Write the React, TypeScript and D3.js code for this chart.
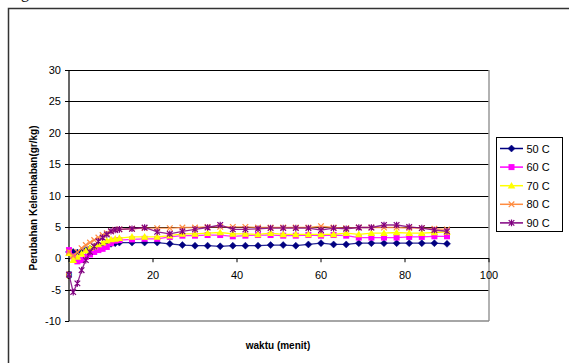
import React from "react";
import * as d3 from "d3";

const time = [0,1,2,3,4,5,6,7,8,9,10,11,12,15,18,21,24,27,30,33,36,39,42,45,48,51,54,57,60,63,66,69,72,75,78,81,84,87,90];
const s50 = [1.0,1.0,0.9,1.1,1.3,1.5,1.7,1.9,2.0,2.1,2.3,2.4,2.5,2.5,2.5,2.5,2.3,2.1,2.0,2.0,1.9,2.0,2.0,2.0,2.1,2.1,2.0,2.2,2.4,2.2,2.2,2.4,2.4,2.4,2.4,2.4,2.4,2.4,2.3];
const s60 = [1.3,0.3,-0.5,-0.3,0.2,0.6,1.0,1.3,1.5,1.8,2.4,2.8,2.9,3.0,3.1,3.1,3.4,3.6,3.6,3.7,3.7,3.5,3.6,3.7,3.7,3.6,3.6,3.7,3.6,3.7,3.6,3.3,3.3,3.3,3.3,3.4,3.4,3.5,3.5];
const s70 = [0.8,-0.3,0.2,0.7,1.2,1.6,1.9,2.2,2.5,2.8,3.0,3.1,3.2,3.4,3.4,3.4,3.6,3.9,3.9,4.0,4.1,3.9,3.9,3.8,4.0,3.8,3.8,3.8,3.8,3.8,4.0,3.8,4.0,4.0,4.1,4.0,4.0,4.1,4.2];
const s80 = [1.0,0.4,1.0,1.6,2.1,2.5,2.9,3.3,3.7,4.0,4.3,4.5,4.6,4.7,4.8,4.8,4.8,4.9,4.9,5.0,5.0,5.0,5.0,4.9,4.9,4.9,4.9,4.9,5.1,4.9,4.8,4.9,4.9,4.9,4.9,4.8,4.8,4.7,4.6];
const s90 = [-2.6,-5.4,-4.0,-1.9,-0.3,1.0,1.9,2.7,3.3,3.8,4.3,4.5,4.6,4.7,4.9,4.2,3.9,4.3,4.6,4.9,5.3,4.6,4.6,4.7,4.8,4.8,4.8,4.8,4.5,4.8,4.7,4.9,4.9,5.3,5.3,5.0,4.8,4.5,4.3];

const seriesNames = ["50 C", "60 C", "70 C", "80 C", "90 C"];
const seriesData = [s50, s60, s70, s80, s90];
const colors = ["#000080", "#FF00FF", "#FFFF00", "#FF8C40", "#800080"];
const markers = ["diamond", "square", "triangle", "x", "star"];

const xTicks = [0, 20, 40, 60, 80, 100];
const yTicks = [-10, -5, 0, 5, 10, 15, 20, 25, 30];

const FONT = "'Liberation Sans', Arial, sans-serif";

function Marker({ type, x, y, color }: { type: string; x: number; y: number; color: string }) {
  if (type === "diamond") {
    const s = 3.5;
    return <path d={`M${x},${y - s}L${x + s},${y}L${x},${y + s}L${x - s},${y}Z`} fill={color} stroke={color} strokeWidth={0.5} />;
  }
  if (type === "square") {
    const s = 3;
    return <rect x={x - s} y={y - s} width={2 * s} height={2 * s} fill={color} />;
  }
  if (type === "triangle") {
    const s = 3.8;
    return <path d={`M${x},${y - s}L${x + s},${y + s * 0.75}L${x - s},${y + s * 0.75}Z`} fill={color} />;
  }
  if (type === "x") {
    const s = 2.8;
    return <path d={`M${x - s},${y - s}L${x + s},${y + s}M${x - s},${y + s}L${x + s},${y - s}`} stroke={color} strokeWidth={1.2} fill="none" />;
  }
  const s = 2.8;
  return <path d={`M${x - s},${y - s}L${x + s},${y + s}M${x - s},${y + s}L${x + s},${y - s}M${x},${y - s - 0.5}L${x},${y + s + 0.5}`} stroke={color} strokeWidth={1.2} fill="none" />;
}

export default function App() {
  const W = 569, H = 363;
  const x = d3.scaleLinear().domain([0, 100]).range([69, 489]);
  const y = d3.scaleLinear().domain([-10, 30]).range([321, 70]);
  const line = d3.line<[number, number]>().x(d => x(d[0])).y(d => y(d[1]));

  const legendX = 496, legendY = 137;
  const legendRowY = (i: number) => 148.5 + i * 18.6;

  return (
    <svg width={W} height={H} style={{ position: "absolute", left: 0, top: 0, background: "#fff" }}>
      <text x={21} y={-2} fontFamily="'Liberation Serif', serif" fontSize={16}>g</text>
      {/* outer chart frame */}
      <rect x={8.5} y={8.5} width={700} height={500} fill="none" stroke="#333" strokeWidth={1.5} />

      {/* gridlines */}
      {yTicks.filter(t => t !== -10 && t !== 0).map(t => (
        <line key={t} x1={x(0)} x2={x(100)} y1={Math.round(y(t)) + 0.5} y2={Math.round(y(t)) + 0.5} stroke="#000" strokeWidth={1} />
      ))}
      {/* plot border right & bottom */}
      <line x1={x(100)} x2={x(100)} y1={y(30)} y2={y(-10)} stroke="#999" strokeWidth={1.5} />
      <line x1={x(0)} x2={x(100)} y1={y(-10)} y2={y(-10)} stroke="#888" strokeWidth={1.5} />

      {/* y axis */}
      <line x1={x(0)} x2={x(0)} y1={y(30)} y2={y(-10)} stroke="#000" strokeWidth={1.2} />
      {yTicks.map(t => (
        <g key={t}>
          <line x1={x(0) - 4} x2={x(0)} y1={Math.round(y(t)) + 0.5} y2={Math.round(y(t)) + 0.5} stroke="#000" />
          <text x={61} y={y(t) + 4} textAnchor="end" fontFamily={FONT} fontSize={11} fill="#000">{t}</text>
        </g>
      ))}

      {/* x axis at 0 */}
      <line x1={x(0)} x2={x(100)} y1={Math.round(y(0)) + 0.5} y2={Math.round(y(0)) + 0.5} stroke="#000" strokeWidth={1.2} />
      {xTicks.map(t => (
        <g key={t}>
          <line x1={x(t)} x2={x(t)} y1={y(0)} y2={y(0) + 4} stroke="#000" />
          <text x={x(t)} y={y(0) + 21} textAnchor="middle" fontFamily={FONT} fontSize={11} fill="#000">{t}</text>
        </g>
      ))}

      {/* series */}
      {seriesData.map((vals, si) => {
        const pts: [number, number][] = time.map((t, i) => [t, vals[i]]);
        return (
          <g key={si}>
            <path d={line(pts) || ""} fill="none" stroke={colors[si]} strokeWidth={1.3} opacity={si === 2 ? 1 : 0.85} />
            {pts.map((p, i) => (
              <Marker key={i} type={markers[si]} x={x(p[0])} y={y(p[1])} color={colors[si]} />
            ))}
          </g>
        );
      })}

      {/* axis titles */}
      <text x={x(50) - 1} y={349} textAnchor="middle" fontFamily={FONT} fontSize={10} fontWeight="bold">waktu (menit)</text>
      <text transform={`translate(37,${198}) rotate(-90)`} textAnchor="middle" fontFamily={FONT} fontSize={10} fontWeight="bold">Perubahan Kelembaban(gr/kg)</text>

      {/* legend */}
      <rect x={legendX + 0.5} y={legendY + 0.5} width={66} height={94} fill="#fff" stroke="#000" strokeWidth={1} />
      {seriesNames.map((n, i) => (
        <g key={n}>
          <line x1={500} x2={523} y1={legendRowY(i)} y2={legendRowY(i)} stroke={colors[i]} strokeWidth={1.5} />
          <Marker type={markers[i]} x={511.5} y={legendRowY(i)} color={colors[i]} />
          <text x={526.5} y={legendRowY(i) + 4} fontFamily={FONT} fontSize={11}>{n}</text>
        </g>
      ))}
    </svg>
  );
}
